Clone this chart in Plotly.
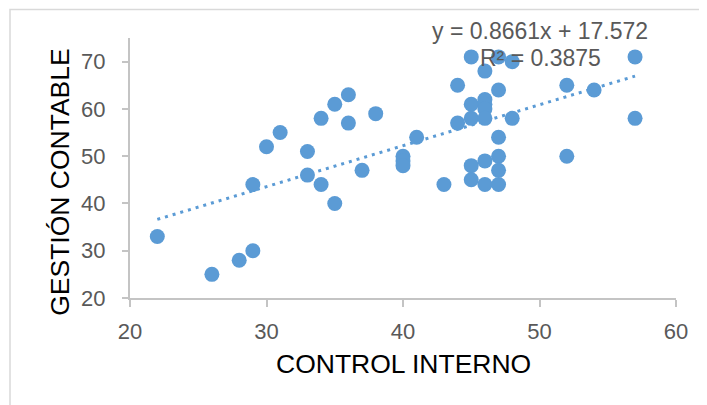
import plotly.graph_objects as go

control_interno = [22, 26, 28, 29, 29, 30, 31, 33, 33, 34, 34, 35, 35, 36, 36, 37, 38,
                   40, 40, 40, 41, 43, 44, 44, 45, 45, 45, 45, 45,
                   46, 46, 46, 46, 46, 46, 46, 47, 47, 47, 47, 47, 47,
                   48, 48, 52, 52, 54, 57, 57]
gestion_contable = [33, 25, 28, 30, 44, 52, 55, 51, 46, 58, 44, 61, 40, 63, 57, 47, 59,
                    50, 49, 48, 54, 44, 65, 57, 71, 61, 58, 48, 45,
                    68, 62, 61, 60, 58, 49, 44, 71, 64, 54, 50, 47, 44,
                    70, 58, 65, 50, 64, 71, 58]

slope = 0.8661
intercept = 17.572
r2 = 0.3875
trend_x = [min(control_interno), max(control_interno)]
trend_y = [slope * v + intercept for v in trend_x]

x_ticks = [20, 30, 40, 50, 60]
y_ticks = [20, 30, 40, 50, 60, 70]

blue = "#5B9BD5"
gray_txt = "#595959"
axis_col = "#C4C4C4"
font_fam = "Liberation Sans, Arial, sans-serif"

# page body adds an 8px offset; plot area target on screen: x 130..676, y 38.4..298
OFF = 8
PL, PR, PT, PB = 130, 676, 38.4, 298
PW, PH = PR - PL, PB - PT


def px(sx):
    return (sx - PL) / PW


def py(sy):
    return (PB - sy) / PH


fig = go.Figure()
fig.add_trace(go.Scatter(x=trend_x, y=trend_y, mode="lines",
                         line=dict(color=blue, width=3, dash="3px,5px"),
                         hoverinfo="skip", showlegend=False))
fig.add_trace(go.Scatter(x=control_interno, y=gestion_contable, mode="markers",
                         marker=dict(color=blue, size=15, line=dict(width=0)),
                         showlegend=False, cliponaxis=False))

fig.update_layout(
    width=707, height=405,
    margin=dict(l=PL - OFF, r=707 - (PR - OFF), t=PT - OFF, b=405 - (PB - OFF)),
    paper_bgcolor="white", plot_bgcolor="white",
    font=dict(family=font_fam, color=gray_txt, size=22),
    xaxis=dict(range=[20, 60], tickvals=x_ticks, showgrid=False, zeroline=False,
               showline=True, linecolor=axis_col, linewidth=2,
               ticks="outside", ticklen=7, tickcolor=axis_col, tickwidth=2,
               tickfont=dict(size=22, color=gray_txt), ticklabelstandoff=6),
    yaxis=dict(range=[20, 75], tickvals=y_ticks, showgrid=False, zeroline=False,
               showline=True, linecolor=axis_col, linewidth=2,
               ticks="outside", ticklen=6, tickcolor=axis_col, tickwidth=2,
               tickfont=dict(size=22, color=gray_txt), ticklabelstandoff=12),
)

# outer chart frame
fig.add_shape(type="rect", xref="paper", yref="paper",
              x0=px(10), x1=px(730), y0=py(430), y1=py(10),
              line=dict(color="#D9D9D9", width=1.5), fillcolor="rgba(0,0,0,0)",
              layer="below")

# axis titles
fig.add_annotation(text="CONTROL INTERNO", xref="paper", yref="paper",
                   x=px(403), y=py(364), showarrow=False,
                   font=dict(size=26.5, color="black", family=font_fam),
                   xanchor="center", yanchor="middle")
fig.add_annotation(text="GESTIÓN CONTABLE", xref="paper", yref="paper",
                   x=px(60), y=py(182), showarrow=False,
                   textangle=-90,
                   font=dict(size=26.5, color="black", family=font_fam),
                   xanchor="center", yanchor="middle")

# trendline equation
fig.add_annotation(text=f"y = {slope}x + {intercept}", xref="paper", yref="paper",
                   x=px(540), y=py(31), showarrow=False,
                   font=dict(size=23, color=gray_txt, family=font_fam),
                   xanchor="center", yanchor="middle")
fig.add_annotation(text=f"R² = {r2}", xref="paper", yref="paper",
                   x=px(540), y=py(58), showarrow=False,
                   font=dict(size=23, color=gray_txt, family=font_fam),
                   xanchor="center", yanchor="middle")

fig.write_html("out.html")
